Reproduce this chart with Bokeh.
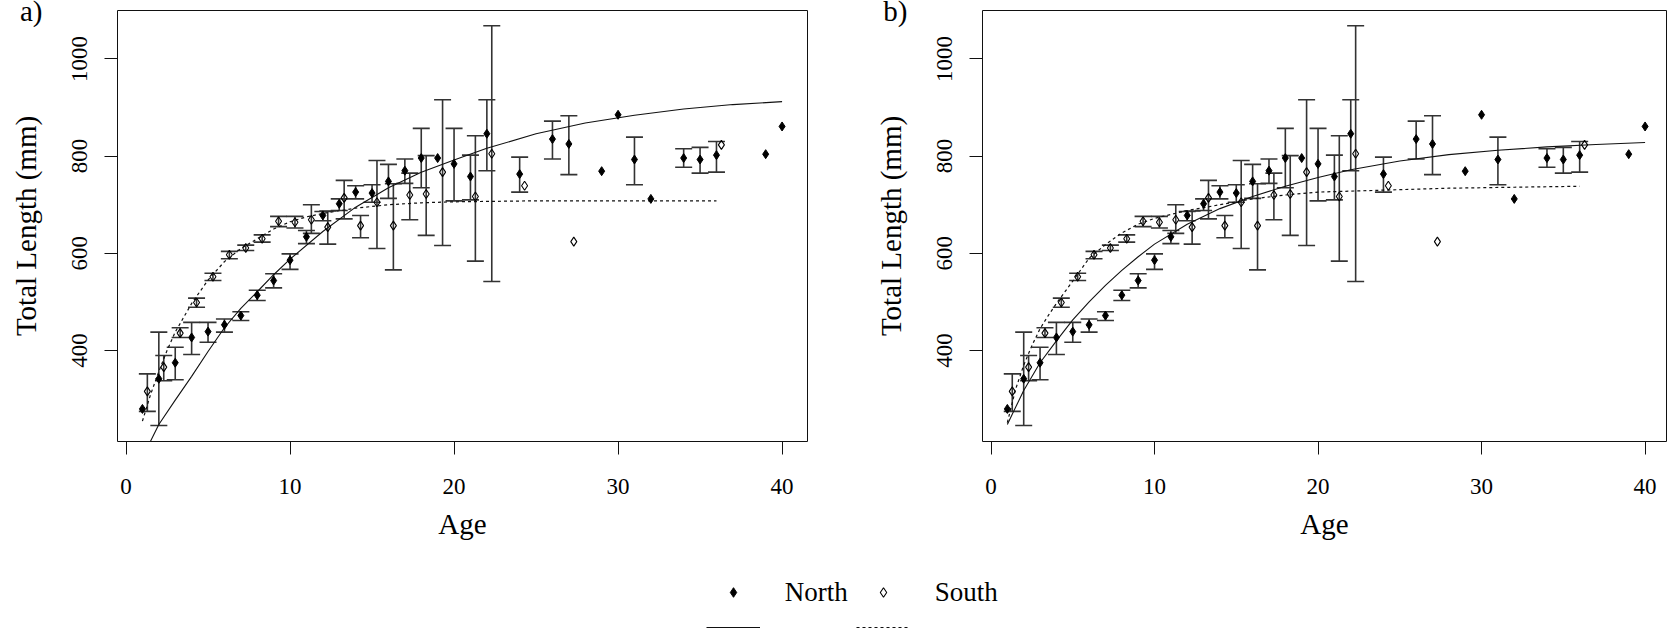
from bokeh.plotting import figure
from bokeh.models import (ColumnDataSource, Whisker, TeeHead, Range1d, FixedTicker,
                          Legend, LegendItem, LinearAxis)
from bokeh.layouts import column, row
from bokeh.transform import dodge
from bokeh.embed import file_html
from bokeh.resources import INLINE

# ---------------- data ----------------
north_age = [1, 2, 3, 4, 5, 6, 7, 8, 9, 10, 11, 12, 13, 14, 15, 16, 17, 18, 19, 20,
             21, 22, 24, 26, 27, 29, 30, 31, 32, 34, 35, 36, 39, 40]
north_mean = [280, 342, 375, 427, 439, 453, 472, 514, 544, 586, 634, 678, 702, 726, 724, 748, 770, 796, 796, 784,
              758, 846, 763, 835, 825, 769, 885, 793, 712, 796, 793, 802, 804, 861]
north_lower = [None, 246, 340, 392, 417, 438, 462, 503, 529, 567, 620, 667, 688, 712, 705, 713, 744, 735, None, 708,
               710, 770, 726, 794, 762, None, None, 741, None, 777, 765, 767, None, None]
north_upper = [None, 438, 407, 458, 458, 465, 480, 524, 558, 599, 647, 686, 712, 739, 741, 783, 794, 857, None, 857,
               802, 916, 798, 872, 883, None, None, 839, None, 815, 818, 830, None, None]

south_age = [1, 2, 3, 4, 5, 6, 7, 8, 9, 10, 11, 12, 13, 14, 15, 16, 17, 18, 19, 21, 22, 24, 27, 36]
south_mean = [316, 366, 436, 499, 552, 597, 611, 630, 666, 664, 669, 654, 714, 657, 705, 657, 720, 722, 767, 717,
              805, 739, 624, 823]
south_lower = [275, 338, 427, 489, 544, 589, 606, 623, 655, 652, 641, 619, 671, 632, 610, 566, 669, 637, 616, 584,
               542, None, None, None]
south_upper = [352, 390, 447, 508, 559, 604, 617, 638, 676, 676, 700, 687, 750, 678, 791, 743, 765, 801, 916, 842,
               1068, None, None, None]

# fitted growth curves
curve_a_north_age = [1, 2, 3, 4, 5, 6, 7, 8, 9, 10, 12, 14, 16, 18, 20, 22, 25, 28, 31, 34, 37, 40]
curve_a_north_len = [180, 248, 298, 347, 398, 447, 487, 521, 556, 588, 645, 695, 735, 767, 792, 816, 846, 868,
                     884, 897, 906, 912]
curve_a_south_age = [1, 1.5, 2, 2.5, 3, 4, 5, 6, 7, 8, 9, 10, 11, 12, 14, 16, 18, 20, 25, 30, 36]
curve_a_south_len = [255, 310, 357, 400, 438, 497, 545, 583, 610, 630, 650, 665, 675, 682, 693, 700, 704, 706,
                     708, 708, 708]
curve_b_north_age = [1, 2, 3, 4, 5, 6, 7, 8, 9, 10, 12, 14, 16, 18, 20, 22, 25, 28, 31, 34, 37, 40]
curve_b_north_len = [248, 318, 375, 420, 463, 500, 534, 565, 593, 619, 660, 692, 717, 738, 756, 772, 790, 803,
                     812, 819, 824, 828]
curve_b_south_age = [1, 1.5, 2, 2.5, 3, 3.5, 4, 5, 6, 7, 8, 9, 10, 12, 14, 16, 18, 20, 24, 28, 32, 36]
curve_b_south_len = [252, 320, 370, 410, 445, 472, 497, 543, 590, 618, 642, 660, 672, 688, 700, 712, 720, 726,
                     730, 734, 736, 738]

x_ticks = [0, 10, 20, 30, 40]
y_ticks = [400, 600, 800, 1000]
panel_tags = ["a)", "b)"]
series_names = ["North", "South"]
x_label = "Age"
y_label = "Total Length (mm)"

# ---------------- styling ----------------
FONT = "Liberation Serif"
INK = "#111111"
BAR = "#333333"
SOUTH_SHIFT = 0.3
PANEL_H = 548
FRAME_TOP = 10
FRAME_H = 431
Y_START, Y_END = 213, 1099.5
NAN = float("nan")


def bar_source(ages, lows, highs):
    rows = [(a, lo, hi) for a, lo, hi in zip(ages, lows, highs) if lo is not None]
    return ColumnDataSource(dict(age=[r[0] for r in rows], lower=[r[1] for r in rows],
                                 upper=[r[2] for r in rows]))


def add_tag_axis(p, tag):
    # tick-less outer axis whose label is the panel tag, drawn in the left margin
    tag_axis = LinearAxis(axis_label=tag, axis_label_orientation="horizontal",
                          axis_label_align="end", ticker=FixedTicker(ticks=[]),
                          major_tick_out=0, major_tick_in=0, axis_line_color=None,
                          major_tick_line_color=None, minor_tick_line_color=None,
                          axis_label_standoff=-36, axis_label_text_font=FONT,
                          axis_label_text_font_size="29px", axis_label_text_font_style="normal",
                          axis_label_text_color="black")
    p.add_layout(tag_axis, "left")


def make_panel(tag, width, left_border, right_border, x_end, n_age, n_len, s_age, s_len):
    p = figure(width=width, height=PANEL_H,
               x_range=Range1d(-0.52, x_end), y_range=Range1d(Y_START, Y_END),
               output_backend="svg", toolbar_location=None,
               min_border_left=left_border, min_border_right=right_border,
               min_border_top=FRAME_TOP, min_border_bottom=PANEL_H - FRAME_TOP - FRAME_H)
    p.grid.visible = False
    p.outline_line_color = INK
    p.outline_line_width = 1
    p.background_fill_color = "white"
    p.border_fill_color = "white"

    for ax in (p.xaxis[0], p.yaxis[0]):
        ax.axis_line_color = None
        ax.major_tick_out = 13
        ax.major_tick_in = 0
        ax.major_tick_line_color = INK
        ax.minor_tick_line_color = None
        ax.major_label_text_font = FONT
        ax.major_label_text_font_size = "23px"
        ax.major_label_text_color = "black"
        ax.axis_label_text_font = FONT
        ax.axis_label_text_font_size = "29px"
        ax.axis_label_text_font_style = "normal"
        ax.axis_label_text_color = "black"
    p.xaxis.ticker = FixedTicker(ticks=x_ticks)
    p.yaxis.ticker = FixedTicker(ticks=y_ticks)
    p.yaxis.major_label_orientation = "vertical"
    p.xaxis.major_label_standoff = 24
    p.yaxis.major_label_standoff = 17
    p.xaxis.axis_label_standoff = 11
    p.yaxis.axis_label_standoff = 28
    p.xaxis.axis_label = x_label
    p.yaxis.axis_label = y_label

    add_tag_axis(p, tag)

    # error bars
    nsrc = bar_source(north_age, north_lower, north_upper)
    ssrc = bar_source(south_age, south_lower, south_upper)
    for src, base in ((nsrc, "age"), (ssrc, dodge("age", SOUTH_SHIFT))):
        w = Whisker(base=base, upper="upper", lower="lower", source=src, dimension="height",
                    line_color=BAR, line_width=1.6,
                    upper_head=TeeHead(size=17, line_color=BAR, line_width=1.6),
                    lower_head=TeeHead(size=17, line_color=BAR, line_width=1.6))
        p.add_layout(w)

    # curves
    p.line(n_age, n_len, line_color=INK, line_width=1.1)
    p.line(s_age, s_len, line_color=INK, line_width=1.2, line_dash="3 3")

    # points
    p.scatter("age", "mean", source=ColumnDataSource(dict(age=north_age, mean=north_mean)),
              marker="diamond", size=9, fill_color="black", line_color="black", line_width=1)
    p.scatter(x=dodge("age", SOUTH_SHIFT), y="mean",
              source=ColumnDataSource(dict(age=south_age, mean=south_mean)),
              marker="diamond", size=9, fill_color=None, line_color="black", line_width=1.1)
    return p


pa = make_panel(panel_tags[0], 871, 117, 64, 41.55, curve_a_north_age, curve_a_north_len,
                curve_a_south_age, curve_a_south_len)
pb = make_panel(panel_tags[1], 796, 109, 1, 41.31, curve_b_north_age, curve_b_north_len,
                curve_b_south_age, curve_b_south_len)

# ---------------- legend strip ----------------
LEG_H = 629 - PANEL_H
pl = figure(width=1667, height=LEG_H, x_range=Range1d(0, 1), y_range=Range1d(0, 1),
            output_backend="svg", toolbar_location=None, min_border=0,
            x_axis_location=None, y_axis_location=None)
pl.grid.visible = False
pl.outline_line_color = None
pl.background_fill_color = "white"
# legend keys only: renderers with no drawable data
rn = pl.scatter(x=[NAN], y=[NAN], marker="diamond", fill_color="black", line_color="black")
rs = pl.scatter(x=[NAN], y=[NAN], marker="diamond", fill_color=None, line_color="black", line_width=1.1)
ln = pl.line(x=[NAN, NAN], y=[NAN, NAN], line_color=INK, line_width=1.1)
ls = pl.line(x=[NAN, NAN], y=[NAN, NAN], line_color=INK, line_width=1.2, line_dash="3 3")
legend = Legend(items=[LegendItem(label=series_names[0], renderers=[rn]),
                       LegendItem(label=series_names[1], renderers=[rs]),
                       LegendItem(label=" ", renderers=[ln]),
                       LegendItem(label=" ", renderers=[ls])],
                orientation="horizontal", ncols=2,
                location=(705.7, -9.5), glyph_width=54, glyph_height=24,
                label_standoff=25, label_width=64, spacing=7, padding=0, margin=0,
                border_line_color=None, background_fill_alpha=0,
                label_text_font=FONT, label_text_font_size="27px", label_text_color="black")
pl.add_layout(legend, "center")

layout = column(row(pa, pb), pl)
open("out.html", "w").write(file_html(layout, INLINE))
